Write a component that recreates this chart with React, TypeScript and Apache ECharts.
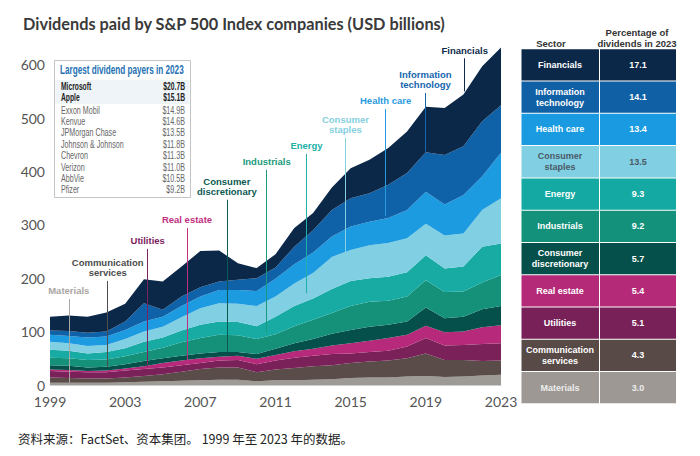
import React, { useEffect, useRef } from "react";
import * as echarts from "echarts";

// ---------- Data ----------
const years = ["1999", "2000", "2001", "2002", "2003", "2004", "2005", "2006", "2007", "2008", "2009", "2010", "2011", "2012", "2013", "2014", "2015", "2016", "2017", "2018", "2019", "2020", "2021", "2022", "2023"];

const materials = [4, 4, 4, 4, 5, 6, 7, 8, 9, 10, 10, 7, 9, 9, 10, 11, 13, 14, 14, 16, 17, 15, 16, 18, 19];
const communication = [10, 9, 8, 8, 9, 11, 13, 17, 21, 23, 23, 17, 20, 23, 25, 26, 28, 30, 32, 34, 42, 32, 31, 27, 27];
const utilities = [12, 12, 12, 12, 13, 13, 13, 12, 11, 13, 14, 15, 17, 19, 20, 21, 18, 18, 18, 22, 29, 27, 28, 32, 32];
const realEstate = [3, 3, 2, 3, 4, 5, 8, 9, 9, 7, 8, 10, 10, 12, 13, 16, 19, 21, 24, 22, 23, 25, 25, 31, 34];
const consDisc = [8, 8, 7, 7, 8, 10, 9, 9, 9, 9, 7, 9, 12, 15, 18, 22, 25, 26, 25, 25, 34, 26, 28, 34, 36];
const industrials = [14, 14, 14, 14, 15, 17, 20, 25, 29, 32, 31, 28, 27, 32, 36, 39, 45, 47, 45, 47, 51, 49, 47, 50, 58];
const energy = [15, 14, 12, 14, 15, 19, 19, 22, 25, 25, 25, 24, 33, 38, 40, 45, 47, 44, 45, 45, 47, 44, 47, 67, 59];
const consStaples = [15, 14, 14, 13, 17, 19, 20, 25, 31, 34, 34, 38, 38, 42, 48, 60, 58, 62, 63, 64, 59, 62, 62, 69, 85];
const healthCare = [13, 14, 16, 16, 17, 19, 19, 21, 22, 25, 26, 28, 33, 36, 38, 38, 44, 44, 47, 53, 60, 58, 72, 63, 85];
const infoTech = [8, 9, 9, 9, 16, 34, 13, 18, 17, 16, 19, 24, 21, 33, 42, 50, 53, 53, 62, 69, 74, 93, 91, 103, 89];
const financials = [26, 29, 30, 36, 33, 45, 53, 56, 68, 58, 31, 19, 25, 35, 32, 42, 56, 63, 69, 78, 85, 88, 97, 103, 108];

const yTicks = [0, 100, 200, 300, 400, 500, 600];

// Sector names (bottom to top of the stack)
const sectorNames = ["Materials", "Communication services", "Utilities", "Real estate", "Consumer discretionary", "Industrials", "Energy", "Consumer staples", "Health care", "Information technology", "Financials"];
const sectorColors = ["#9e9a96", "#5a4d49", "#7a2159", "#b7297a", "#05504a", "#15917a", "#18aba4", "#80cfe2", "#1d9be0", "#0f62a8", "#0c2849"];
const sectorSeries = [materials, communication, utilities, realEstate, consDisc, industrials, energy, consStaples, healthCare, infoTech, financials];

// Annotation call-outs: label, year (x), from value, to value
const annLabels = ["Materials", "Communication\nservices", "Utilities", "Real estate", "Consumer\ndiscretionary", "Industrials", "Energy", "Consumer\nstaples", "Health care", "Information\ntechnology", "Financials"];
const annYears = [2000.0, 2002.07, 2004.2, 2006.29, 2008.41, 2010.53, 2012.65, 2014.72, 2016.86, 2018.98, 2021.07];
const annFrom = [4, 34, 34, 41, 62, 97, 172, 247, 316, 437, 550];
const annTo = [161, 195, 255, 294, 347, 403, 433, 463, 517, 547, 612];
const annColors = ["#aaa6a2", "#4d4d4d", "#7d2260", "#c0307f", "#0b5a52", "#1a9a7c", "#20b0a8", "#86cfe0", "#2a9ae0", "#1666ae", "#0f2a4a"];

// Inset: largest dividend payers
const payerNames = ["Microsoft", "Apple", "Exxon Mobil", "Kenvue", "JPMorgan Chase", "Johnson & Johnson", "Chevron", "Verizon", "AbbVie", "Pfizer"];
const payerValues = ["$20.7B", "$15.1B", "$14.9B", "$14.6B", "$13.5B", "$11.8B", "$11.3B", "$11.0B", "$10.5B", "$9.2B"];

// Right table (top to bottom)
const tableSectors = ["Financials", "Information\ntechnology", "Health care", "Consumer\nstaples", "Energy", "Industrials", "Consumer\ndiscretionary", "Real estate", "Utilities", "Communication\nservices", "Materials"];
const tablePct = ["17.1", "14.1", "13.4", "13.5", "9.3", "9.2", "5.7", "5.4", "5.1", "4.3", "3.0"];
const tableColors = ["#0c2849", "#1060a6", "#1a9ae0", "#80cfe2", "#14aaa3", "#13917a", "#05504a", "#b52a78", "#782058", "#584a46", "#9d9894"];
const tableTextColors = ["#ffffff", "#ffffff", "#ffffff", "#4a5a66", "#ffffff", "#ffffff", "#ffffff", "#ffffff", "#ffffff", "#ffffff", "#ececec"];

const TITLE = "Dividends paid by S&P 500 Index companies (USD billions)";
const FOOTER = "资料来源：FactSet、资本集团。 1999 年至 2023 年的数据。";

const SANS = "'Liberation Sans', Arial, sans-serif";

export default function App() {
  const ref = useRef<HTMLDivElement>(null);

  useEffect(() => {
    document.body.style.margin = "0";
    if (!ref.current) return;
    const chart = echarts.init(ref.current, undefined, { renderer: "svg" });

    const series: any[] = sectorSeries.map((vals, i) => ({
      name: sectorNames[i],
      type: "line",
      stack: "total",
      symbol: "none",
      smooth: false,
      lineStyle: { width: 0 },
      areaStyle: { color: sectorColors[i], opacity: 1 },
      itemStyle: { color: sectorColors[i] },
      data: vals,
      silent: true,
      z: 2,
    }));

    series.push({
      name: "annotations",
      type: "line",
      xAxisIndex: 1,
      data: [],
      silent: true,
      z: 5,
      markLine: {
        silent: true,
        symbol: ["none", "none"],
        animation: false,
        data: annLabels.map((lab, i) => [
          {
            coord: [annYears[i], annFrom[i]],
            lineStyle: { color: annColors[i], width: 1, type: "solid" },
            label: {
              show: true,
              position: "end",
              formatter: lab,
              color: annColors[i],
              fontWeight: "bold",
              fontSize: 9.5,
              lineHeight: 10.5,
              align: "center",
              fontFamily: SANS,
              distance: 3,
            },
          },
          { coord: [annYears[i], annTo[i]] },
        ]),
      },
    });

    // inset table graphics
    const inset: any[] = [];
    inset.push({ type: "rect", shape: { x: 54.5, y: 60.5, width: 136, height: 137 }, style: { fill: "#ffffff", stroke: "#c4c4c4", lineWidth: 1 } });
    inset.push({ type: "rect", shape: { x: 55.5, y: 80, width: 134, height: 24 }, style: { fill: "#eef4f7" } });
    inset.push({ type: "text", x: 60, y: 70, scaleX: 0.68, style: { text: "Largest dividend payers in 2023", fill: "#2570b3", font: `bold 12px ${SANS}`, textVerticalAlign: "middle" } });
    payerNames.forEach((n, i) => {
      const y = 86 + i * 11.4 + (i >= 2 ? 1.2 : 0);
      const bold = i < 2;
      inset.push({ type: "text", x: 61, y, scaleX: bold ? 0.64 : 0.68, style: { text: n, fill: bold ? "#222" : "#666", font: `${bold ? "bold " : ""}10.5px ${SANS}`, textVerticalAlign: "middle" } });
      inset.push({ type: "text", x: 185, y, scaleX: bold ? 0.64 : 0.68, style: { text: payerValues[i], fill: bold ? "#222" : "#666", font: `${bold ? "bold " : ""}10.5px ${SANS}`, textAlign: "right", textVerticalAlign: "middle" } });
    });

    // right table graphics
    const table: any[] = [];
    table.push({ type: "text", x: 551, y: 43, style: { text: "Sector", fill: "#333", font: `bold 9.5px ${SANS}`, textAlign: "center", textVerticalAlign: "middle" } });
    table.push({ type: "text", x: 637, y: 37.5, style: { text: "Percentage of\ndividends in 2023", fill: "#333", font: `bold 9.5px ${SANS}`, textAlign: "center", textVerticalAlign: "middle", lineHeight: 11 } });
    const rowTop = 49.3;
    const rowH = 32.27;
    tableSectors.forEach((s, i) => {
      const y0 = rowTop + i * rowH;
      table.push({ type: "rect", shape: { x: 521.5, y: y0, width: 77.5, height: rowH - 1 }, style: { fill: tableColors[i] } });
      table.push({ type: "rect", shape: { x: 600, y: y0, width: 76, height: rowH - 1 }, style: { fill: tableColors[i] } });
      table.push({ type: "text", x: 560, y: y0 + (rowH - 1) / 2, style: { text: s, fill: tableTextColors[i], font: `bold 9px ${SANS}`, textAlign: "center", textVerticalAlign: "middle", lineHeight: 11 } });
      table.push({ type: "text", x: 638, y: y0 + (rowH - 1) / 2, style: { text: tablePct[i], fill: tableTextColors[i], font: `bold 9px ${SANS}`, textAlign: "center", textVerticalAlign: "middle" } });
    });

    const option: any = {
      animation: false,
      title: {
        text: TITLE,
        left: 18,
        top: 10,
        textStyle: { fontSize: 16.3, fontWeight: "bold", color: "#3a3a3a", fontFamily: "Lato, 'Noto Sans', sans-serif" },
      },
      grid: { left: 50, right: 199, top: 38, bottom: 71, containLabel: false },
      xAxis: [
        {
          type: "category",
          data: years,
          boundaryGap: false,
          axisLine: { show: true, lineStyle: { color: "#cfcfcf", width: 1 } },
          axisTick: { show: false },
          splitLine: { show: false },
          axisLabel: {
            interval: 3,
            margin: 9,
            color: "#555",
            fontSize: 14,
            fontFamily: "Lato, 'Noto Sans', sans-serif",
          },
        },
        {
          type: "value",
          min: 1999,
          max: 2023,
          show: false,
          splitLine: { show: false },
        },
      ],
      yAxis: {
        type: "value",
        min: 0,
        max: 650,
        interval: 100,
        axisLine: { show: false },
        axisTick: { show: false },
        splitLine: { show: false },
        axisLabel: {
          margin: 5,
          color: "#555",
          fontSize: 14,
          fontFamily: "Lato, 'Noto Sans', sans-serif",
          showMaxLabel: false,
          formatter: (v: number) => (yTicks.includes(v) ? String(v) : ""),
        },
      },
      series,
      graphic: [
        ...inset,
        ...table,
        {
          type: "text",
          x: 18,
          y: 438,
          style: { text: FOOTER, fill: "#222", font: "12.5px 'Noto Sans CJK SC', 'Noto Sans', sans-serif", textVerticalAlign: "middle" },
        },
      ],
    };

    chart.setOption(option);
    return () => chart.dispose();
  }, []);

  return <div ref={ref} style={{ width: 700, height: 456 }} />;
}
